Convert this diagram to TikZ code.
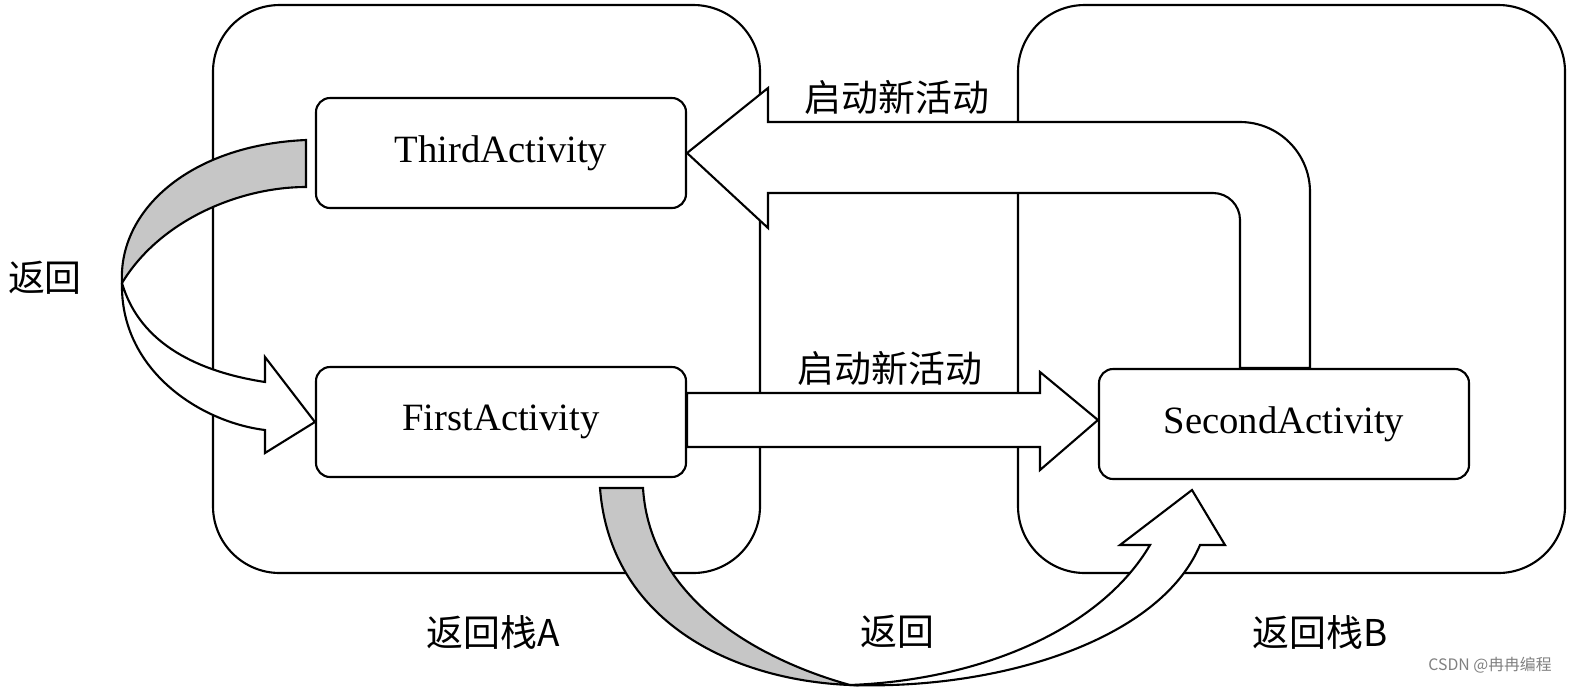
\documentclass[tikz,border=0pt]{standalone}
\usepackage{fontspec}
\setmainfont{Liberation Serif}
\newfontfamily\cjk{Noto Sans CJK SC}
\usetikzlibrary{positioning}
\tikzset{
  stackbox/.style={draw, line width=1.2pt, rounded corners=38pt},
  act/.style={draw, line width=1.2pt, fill=white, rounded corners=8pt, minimum width=370*0.02cm, minimum height=110*0.02cm, font=\fontsize{22}{26}\selectfont},
  lbl/.style={font=\cjk\fontsize{21}{25}\selectfont},
  band/.style={draw, line width=1.2pt, fill=white, line join=miter}
}
\begin{document}
\begin{tikzpicture}[x=0.02cm, y=-0.02cm]
\useasboundingbox (0,0) rectangle (1595,694);

% Back stacks
\draw[stackbox] (213,5) rectangle (760,573);
\draw[stackbox] (1018,5) rectangle (1565,573);

% Activities
\node[act] (third) at (501,153) {ThirdActivity};
\node[act] (first) at (501,422) {FirstActivity};
\node[act] (second) at (1284,424) {SecondActivity};

% First -> Second
\draw[band] (first.east |- 0,393) -- (1040,393) -- (1040,372) -- (second.west |- 0,420)
  -- (1040,470) -- (1040,447) -- (first.east |- 0,447) -- cycle;

% Second -> Third
\draw[band] (1240,368) -- (1240,220) arc[start angle=0, end angle=-90, radius=27] -- (768,193)
  -- (768,228) -- (third.east) -- (768,88) -- (768,122) -- (1240,122)
  arc[start angle=-90, end angle=0, radius=70] -- (1310,368) -- cycle;

% Third -> First (back)
\coordinate (lp) at (122,283);
\draw[band, fill=gray!45] (306,140) .. controls (190,145) and (118,210) .. (lp)
  .. controls (160,220) and (240,187) .. (306,187) -- cycle;
\draw[band] (lp) .. controls (120,370) and (200,422) .. (265,430) -- (265,453) -- (first.west)
  -- (265,357) -- (265,382) .. controls (200,372) and (140,345) .. (lp);

% First -> Second (back)
\coordinate (bp) at (850,685);
\draw[band, fill=gray!45] (600,488) .. controls (610,620) and (730,680) .. (bp)
  .. controls (760,660) and (650,600) .. (643,488) -- cycle;
\draw[band] (bp) .. controls (1000,690) and (1160,640) .. (1200,545) -- (1225,545) -- (1192,490)
  -- (1120,545) -- (1150,545) .. controls (1100,630) and (980,680) .. (bp);

% Labels
\node[lbl] (starttop) at (897,97) {启动新活动};
\node[lbl] (startmid) at (890,368) {启动新活动};
\node[lbl] (backleft) at (45,278) {返回};
\node[lbl] (backbot) at (897,632) {返回};
\node[lbl] (stacka) at (493,632) {返回栈A};
\node[lbl] (stackb) at (1320,632) {返回栈B};
\node[font=\cjk\fontsize{9}{11}\selectfont, text=gray] (mark) at (1490,665) {CSDN @冉冉编程};
\end{tikzpicture}
\end{document}
